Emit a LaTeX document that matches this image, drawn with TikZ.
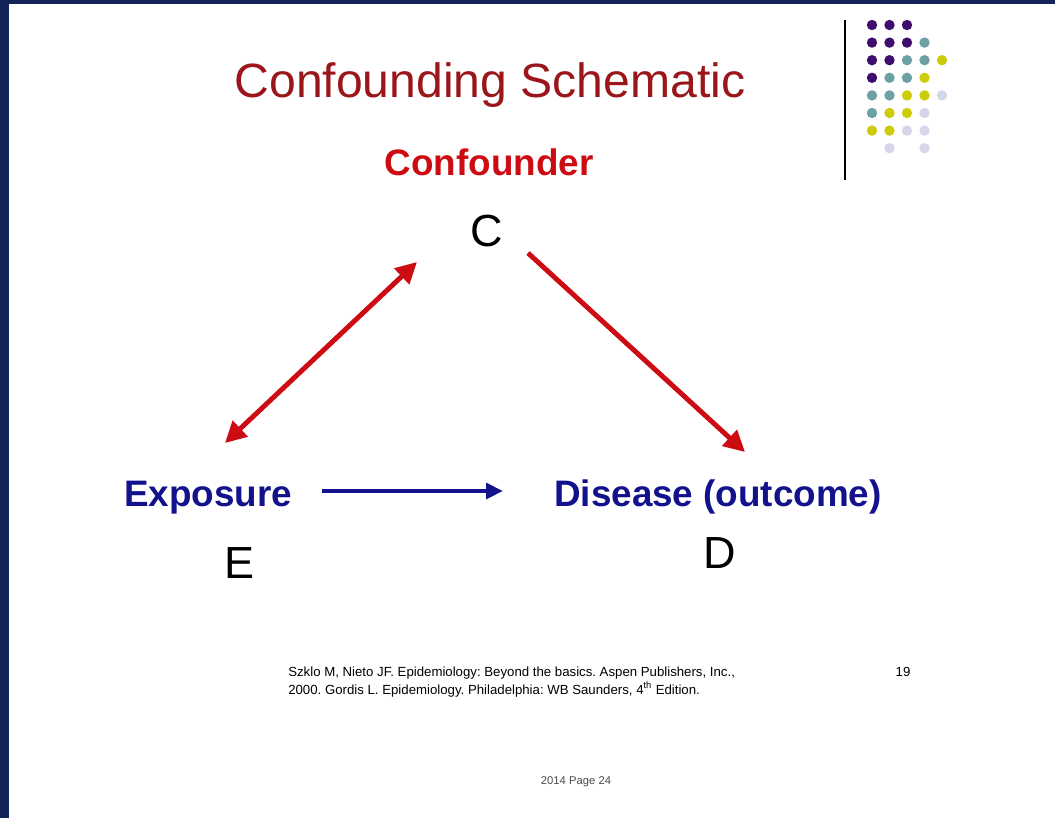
\documentclass[tikz,border=0pt]{standalone}
\usepackage{fontspec}
\setmainfont{Liberation Sans}
\usetikzlibrary{arrows.meta}

\definecolor{fondo}{RGB}{20,35,88}
\definecolor{titulo}{RGB}{155,22,26}
\definecolor{rojo}{RGB}{204,12,18}
\definecolor{azul}{RGB}{18,18,140}
\definecolor{morado}{RGB}{62,14,110}
\definecolor{verde}{RGB}{108,160,162}
\definecolor{amarillo}{RGB}{204,204,10}
\definecolor{lila}{RGB}{214,214,234}

\begin{document}
\frenchspacing
\begin{tikzpicture}[x=0.025cm, y=-0.025cm,
  every node/.style={inner sep=0pt, anchor=base},
  etiqueta/.style={font=\fontsize{26.2}{30}\selectfont\bfseries},
  letra/.style={font=\fontsize{32}{36}\selectfont},
  nota/.style={font=\fontsize{9.4}{11}\selectfont, anchor=base west},
  causa/.style={draw=rojo, line width=3.5pt, -{Triangle[length=15pt, width=15pt]}},
  doble/.style={draw=rojo, line width=3.5pt, {Triangle[length=15pt, width=15pt]}-{Triangle[length=15pt, width=15pt]}},
  efecto/.style={draw=azul, line width=3pt, -{Triangle[length=12pt, width=11pt]}}]

  % Fondo
  \useasboundingbox (0,0) rectangle (1055,818);
  \fill[fondo] (0,0) rectangle (1055,818);
  \fill[white] (9,3.5) rectangle (1055,818);

  % Puntos de la esquina
  \draw[line width=1pt] (845,20) -- (845,180);
  \foreach \c/\r in {0/0,1/0,2/0, 0/1,1/1,2/1, 0/2,1/2, 0/3}
    \fill[morado] (872+17.5*\c, 25+17.6*\r) circle (5.2);
  \foreach \c/\r in {3/1, 2/2,3/2, 1/3,2/3, 0/4,1/4, 0/5}
    \fill[verde] (872+17.5*\c, 25+17.6*\r) circle (5.2);
  \foreach \c/\r in {4/2, 3/3, 2/4,3/4, 1/5,2/5, 0/6,1/6}
    \fill[amarillo] (872+17.5*\c, 25+17.6*\r) circle (5.2);
  \foreach \c/\r in {4/4, 3/5, 2/6,3/6, 1/7,3/7}
    \fill[lila] (872+17.5*\c, 25+17.6*\r) circle (5.2);

  % Textos
  \node[text=titulo, font=\fontsize{34.2}{40}\selectfont] (titulo) at (490,97) {Confounding Schematic};
  \node[etiqueta, text=rojo] (confusor) at (489,175) {Confounder};
  \node[letra] (c) at (487,246) {C};
  \node[etiqueta, text=azul] (exposicion) at (208,506) {Exposure};
  \node[etiqueta, text=azul] (enfermedad) at (718,506) {Disease (outcome)};
  \node[letra] (e) at (240,578) {E};
  \node[letra] (d) at (720,568) {D};

  \node[nota] (ref1) at (288,676) {Szklo M, Nieto JF. Epidemiology: Beyond the basics. Aspen Publishers, Inc.,};
  \node[nota] (ref2) at (288,694) {2000. Gordis L. Epidemiology. Philadelphia: WB Saunders, 4\textsuperscript{th} Edition.};
  \node[font=\fontsize{9.4}{11}\selectfont] (num) at (903,676) {19};
  \node[font=\fontsize{8}{10}\selectfont, text=black!70] (pagina) at (576,784) {2014 Page 24};

  % Flechas
  \coordinate (ce) at (417,262);
  \coordinate (ec) at (225,443);
  \coordinate (cd) at (528,253);
  \coordinate (dc) at (745,452);
  \coordinate (ed) at (322,491);
  \coordinate (de) at (503,491);
  \draw[doble] (ec) -- (ce);
  \draw[causa] (cd) -- (dc);
  \draw[efecto] (ed) -- (de);
\end{tikzpicture}
\end{document}
